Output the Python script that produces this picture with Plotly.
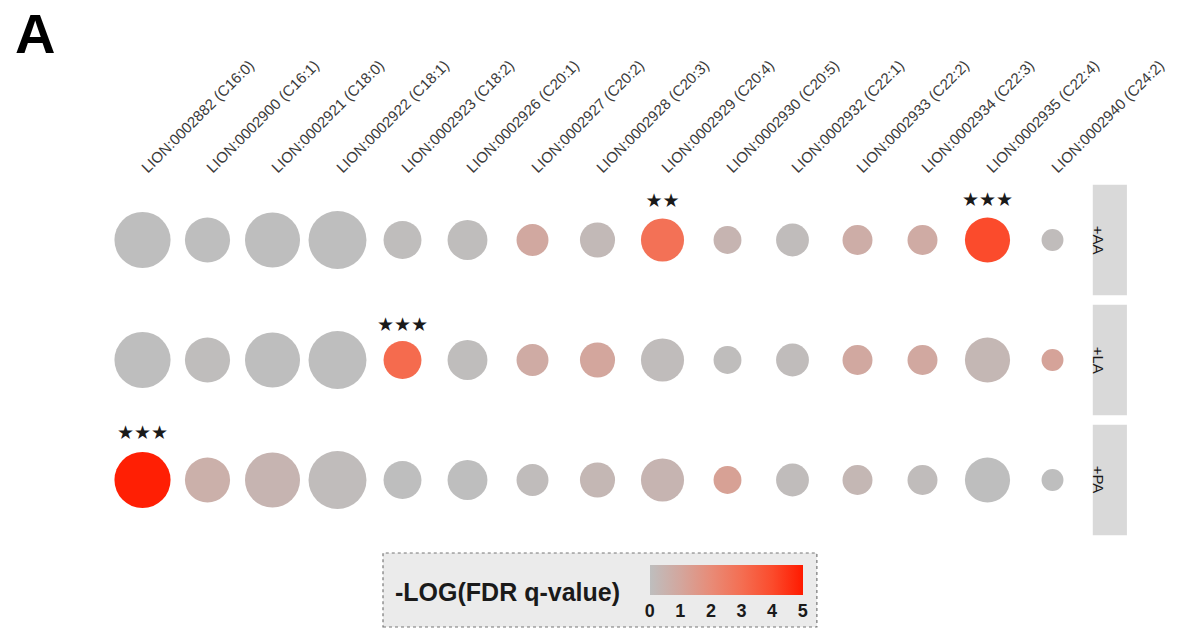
import plotly.graph_objects as go

terms = ["LION:0002882 (C16:0)", "LION:0002900 (C16:1)", "LION:0002921 (C18:0)",
         "LION:0002922 (C18:1)", "LION:0002923 (C18:2)", "LION:0002926 (C20:1)",
         "LION:0002927 (C20:2)", "LION:0002928 (C20:3)", "LION:0002929 (C20:4)",
         "LION:0002930 (C20:5)", "LION:0002932 (C22:1)", "LION:0002933 (C22:2)",
         "LION:0002934 (C22:3)", "LION:0002935 (C22:4)", "LION:0002940 (C24:2)"]
conditions = ["+PA", "+LA", "+AA"]  # bottom to top

# number of lipids per term (circle size)
n_lipids = [105, 68, 101, 112, 48, 53, 34, 41, 62, 26, 36, 30, 30, 68, 16]

# -log(FDR q-value) per condition
neglogq_AA = [0.0, 0.0, 0.0, 0.0, 0.05, 0.05, 0.9, 0.2, 2.9, 0.4, 0.1, 0.7, 0.8, 4.0, 0.1]
neglogq_LA = [0.0, 0.05, 0.0, 0.0, 3.1, 0.05, 0.8, 1.0, 0.1, 0.05, 0.1, 0.9, 0.9, 0.3, 1.1]
neglogq_PA = [4.9, 0.6, 0.4, 0.1, 0.0, 0.0, 0.1, 0.3, 0.4, 1.2, 0.1, 0.3, 0.1, 0.0, 0.0]

stars_AA = ["", "", "", "", "", "", "", "", "★★", "", "", "", "", "★★★", ""]
stars_LA = ["", "", "", "", "★★★", "", "", "", "", "", "", "", "", "", ""]
stars_PA = ["★★★", "", "", "", "", "", "", "", "", "", "", "", "", "", ""]

cbar_ticks = [0, 1, 2, 3, 4, 5]

values = {"+AA": neglogq_AA, "+LA": neglogq_LA, "+PA": neglogq_PA}
stars = {"+AA": stars_AA, "+LA": stars_LA, "+PA": stars_PA}

xs, ys, cs, ss, ts = [], [], [], [], []
for cond in conditions:
    for i, t in enumerate(terms):
        xs.append(t)
        ys.append(cond)
        cs.append(values[cond][i])
        ss.append(n_lipids[i])
        ts.append(stars[cond][i])

colorscale = [[0, "#BEBEBE"], [0.2, "#D3A69D"], [0.4, "#E88B77"],
              [0.6, "#F46E52"], [0.8, "#FB4B2C"], [1, "#FF1A00"]]

fig = go.Figure()
fig.add_trace(go.Scatter(
    x=xs, y=ys, mode="markers+text",
    text=ts, textposition="top center",
    textfont=dict(family="DejaVu Sans", size=19, color="#1a1a1a"),
    marker=dict(size=ss, sizemode="area", sizeref=1 / 15, color=cs, opacity=1,
                cmin=0, cmax=5, colorscale=colorscale, line=dict(width=0),
                colorbar=dict(orientation="h", x=0.632, xanchor="center",
                              y=-0.0694, yanchor="top", len=153, lenmode="pixels",
                              thickness=30, outlinewidth=0, ticks="",
                              tickvals=cbar_ticks,
                              tickfont=dict(family="Liberation Sans", size=18,
                                            color="#1a1a1a", weight="bold"),
                              bgcolor="rgba(0,0,0,0)", xpad=0, ypad=0)),
    cliponaxis=False, hoverinfo="skip", showlegend=False,
))

fig.update_xaxes(side="top", tickangle=-45, categoryorder="array", categoryarray=terms,
                 range=[-0.5, len(terms) - 0.5], showgrid=False, zeroline=False,
                 showline=False, ticks="",
                 tickfont=dict(family="Liberation Sans", size=15, color="#3a3a3a"))
fig.update_yaxes(categoryorder="array", categoryarray=conditions, range=[-0.5, 2.5],
                 showgrid=False, zeroline=False, showline=False, showticklabels=False,
                 ticks="")

# facet strips
for k, cond in enumerate(conditions):
    fig.add_shape(type="rect", xref="paper", yref="y", x0=1.008, x1=1.043,
                  y0=k - 0.46, y1=k + 0.46, fillcolor="#D9D9D9", line=dict(width=0),
                  layer="below")
    fig.add_annotation(x=1.0255, y=cond, xref="paper", yref="y", text=cond,
                       textangle=90, showarrow=False,
                       font=dict(family="Liberation Sans", size=15, color="#1a1a1a"))

# legend box
fig.add_shape(type="rect", xref="paper", yref="paper", x0=0.28, x1=0.725,
              y0=-0.2417, y1=-0.0361, fillcolor="#EBEBEB",
              line=dict(color="#777777", width=1.2, dash="dot"), layer="below")
fig.add_annotation(x=0.2903, y=-0.1444, xref="paper", yref="paper",
                   text="<b>-LOG(FDR q-value)</b>", showarrow=False, xanchor="left",
                   yanchor="middle",
                   font=dict(family="Liberation Sans", size=25, color="#1a1a1a"))

# panel letter
fig.add_annotation(x=-0.0995, y=1.4056, xref="paper", yref="paper", text="<b>A</b>",
                   showarrow=False, xanchor="left", yanchor="middle",
                   font=dict(family="Liberation Sans", size=56, color="#000000"))

fig.update_layout(width=1185, height=629, plot_bgcolor="white", paper_bgcolor="white",
                  margin=dict(l=110, r=100, t=180, b=89))
fig.write_html("out.html", config={"displayModeBar": False},
               post_script="document.body.style.margin='0';")
